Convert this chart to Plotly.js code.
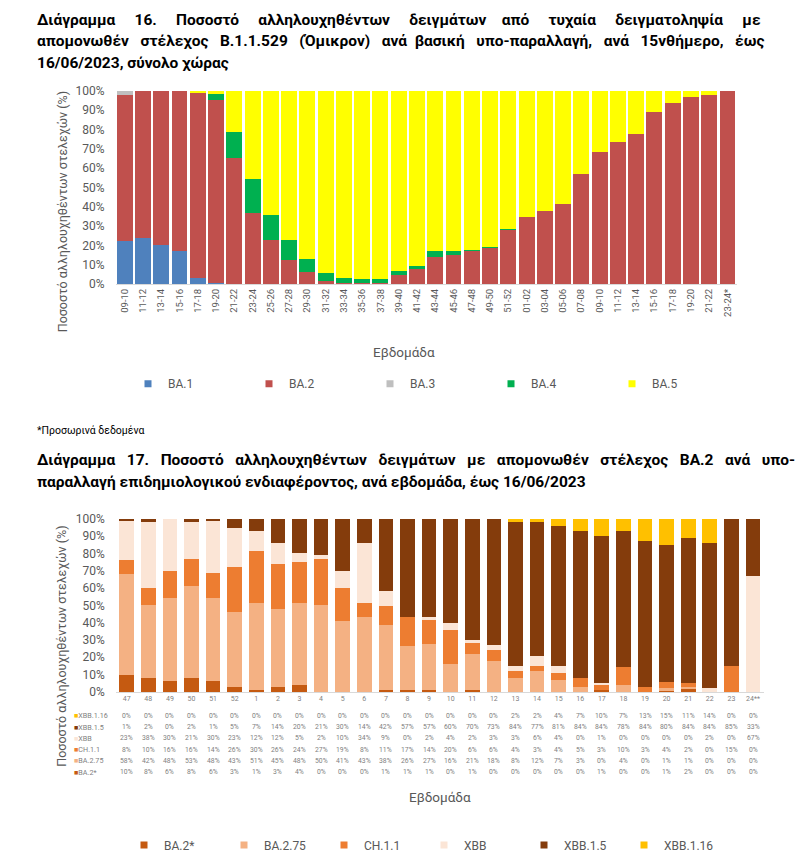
<!DOCTYPE html>
<html><head><meta charset="utf-8">
<script src="https://cdn.plot.ly/plotly-3.0.1.min.js"></script>
<style>body{margin:0;background:#fff}#chart{width:800px;height:860px}</style>
</head><body><div id="chart"></div>
<script>
// ---------- Chart 16 data ----------
const weeks16 = ['09-10','11-12','13-14','15-16','17-18','19-20','21-22','23-24','25-26','27-28','29-30','31-32','33-34','35-36','37-38','39-40','41-42','43-44','45-46','47-48','49-50','51-52','01-02','03-04','05-06','07-08','09-10','11-12','13-14','15-16','17-18','19-20','21-22','23-24*'];
const ba1 = [22,24,20,17,3,0.7,0,0,0,0,0,0,0,0,0,0,0,0,0,0,0,0,0,0,0,0,0,0,0,0,0,0,0,0];
const ba2 = [76,76,80,83,96,94.7,65,36.5,22.6,12.2,6,1.7,0.5,0.3,0.7,4.8,7.9,14.2,14.8,17.5,18.9,28.6,34.5,37.7,41.2,56.9,68.4,73.2,77.4,88.9,93.5,96.9,97.8,100];
const ba3 = [2,0,0,0,0,0,0,0,0,0,0,0,0,0,0,0,0,0,0,0,0,0,0,0,0,0,0,0,0,0,0,0,0,0];
const ba4 = [0,0,0,0,0,3,13.7,18,13.2,10.4,6.9,4,2.8,2.1,2,1.9,1.5,2.8,2.2,0.2,0.2,0.1,0,0,0,0,0,0,0,0,0,0,0,0];
const ba5 = [0,0,0,0,1,1.6,21.3,45.5,64.2,77.4,87.1,94.3,96.7,97.6,97.3,93.3,90.6,83,83,82.3,80.9,71.3,65.5,62.3,58.8,43.1,31.6,26.8,22.6,11.1,6.5,3.1,2.2,0];
const names16 = ['BA.1','BA.2','BA.3','BA.4','BA.5'];
const colors16 = ['#4F81BD','#C0504D','#BFBFBF','#00B050','#FFFF00'];

// ---------- Chart 17 data ----------
const weeks17 = ['47','48','49','50','51','52','1','2','3','4','5','6','7','8','9','10','11','12','13','14','15','16','17','18','19','20','21','22','23','24**'];
const ba2star = [10,8,6,8,6,3,1,3,4,0,0,0,1,1,1,0,1,0,0,0,0,0,1,0,0,1,2,0,0,0];
const ba275  = [58,42,48,53,48,43,51,45,48,50,41,43,38,26,27,16,21,18,8,12,7,3,0,4,0,1,1,0,0,0];
const ch11   = [8,10,16,16,14,26,30,26,24,27,19,8,11,17,14,20,6,6,4,3,4,5,3,10,3,4,2,0,15,0];
const xbb    = [23,38,30,21,30,23,12,12,5,2,10,34,9,0,2,4,2,3,3,6,4,0,1,0,0,0,0,2,0,67];
const xbb15  = [1,2,0,2,1,5,7,14,20,21,30,14,42,57,57,60,70,73,84,77,81,84,84,78,84,80,84,84,85,33];
const xbb116 = [0,0,0,0,0,0,0,0,0,0,0,0,0,0,0,0,0,0,2,2,4,7,10,7,13,15,11,14,0,0];
const names17 = ['BA.2*','BA.2.75','CH.1.1','XBB','XBB.1.5','XBB.1.16'];
const colors17 = ['#C55A11','#F4B183','#ED7D31','#FBE5D6','#843C0C','#FFC000'];

// ---------- Text ----------
const title16 = ['Διάγραμμα 16. Ποσοστό αλληλουχηθέντων δειγμάτων από τυχαία δειγματοληψία με',
  'απομονωθέν στέλεχος Β.1.1.529 (Όμικρον) ανά βασική υπο-παραλλαγή, ανά 15νθήμερο, έως',
  '16/06/2023, σύνολο χώρας'];
const title17 = ['Διάγραμμα 17. Ποσοστό αλληλουχηθέντων δειγμάτων με απομονωθέν στέλεχος BA.2 ανά υπο-',
  'παραλλαγή επιδημιολογικού ενδιαφέροντος, ανά εβδομάδα, έως 16/06/2023'];
const yTitle = 'Ποσοστό αλληλουχηθέντων στελεχών (%)';
const xTitle = 'Εβδομάδα';
const footnote = '*Προσωρινά δεδομένα';

// ---------- Build ----------
const W = 800, H = 860;
const px = v => v / W;
const py = v => 1 - v / H;
const F = 'Roboto, "Noto Sans", sans-serif';
const GRAY = '#595959';
const NB = '\u00A0';

// spread extra non-breaking spaces evenly over the gaps of a line (justified look)
function justify(line, extra) {
  const w = line.split(' ');
  const gaps = w.length - 1;
  if (!extra || gaps < 1) return line;
  let out = w[0], acc = 0;
  for (let i = 1; i <= gaps; i++) {
    const target = Math.round(extra * i / gaps);
    out += ' ' + NB.repeat(target - acc) + w[i];
    acc = target;
  }
  return out;
}

const idx16 = weeks16.map((_, i) => i);
const idx17 = weeks17.map((_, i) => i);
const series16 = [ba1, ba2, ba3, ba4, ba5];
const series17 = [ba2star, ba275, ch11, xbb, xbb15, xbb116];

const traces = [];
series16.forEach((s, k) => {
  traces.push({type:'bar', x: idx16, y: s, name: names16[k], marker:{color: colors16[k], line:{width:0}},
    xaxis:'x', yaxis:'y', showlegend:false, legendgroup:'g16'+k, hoverinfo:'name+y'});
});
series17.forEach((s, k) => {
  traces.push({type:'bar', x: weeks17, y: s, name: names17[k], width: 0.68, marker:{color: colors17[k], line:{width:0}},
    xaxis:'x2', yaxis:'y2', showlegend:false, legendgroup:'g17'+k, hoverinfo:'name+y'});
});
// legend entries
names16.forEach((n, k) => traces.push({type:'scatter', mode:'markers', x:[null], y:[null], name:n, xaxis:'x', yaxis:'y',
  marker:{symbol:'square', size:7, color: colors16[k]}, legend:'legend', legendgroup:'g16'+k, hoverinfo:'skip'}));
names17.forEach((n, k) => traces.push({type:'scatter', mode:'markers', x:[null], y:[null], name:n, xaxis:'x2', yaxis:'y2',
  marker:{symbol:'square', size:7, color: colors17[k]}, legend:'legend2', legendgroup:'g17'+k, hoverinfo:'skip'}));

const ann = [];
const titleFont = {family:F, size:15.5, color:'#000'};
const extra16 = [31, 17, 0];
const extra17 = [20, 0];
title16.forEach((t, i) => ann.push({xref:'paper', yref:'paper', x: px(35), y: py(20 + i*21.5), xanchor:'left', yanchor:'middle',
  text:'<b>'+justify(t, extra16[i])+'</b>', showarrow:false, font:titleFont}));
title17.forEach((t, i) => ann.push({xref:'paper', yref:'paper', x: px(35), y: py(462 + i*22), xanchor:'left', yanchor:'middle',
  text:'<b>'+justify(t, extra17[i])+'</b>', showarrow:false, font:titleFont}));
ann.push({xref:'paper', yref:'paper', x: px(35), y: py(432), xanchor:'left', yanchor:'middle', text: footnote, showarrow:false,
  font:{family:F, size:10.5, color:'#000'}});
// axis titles
[213, 649].forEach((c) => ann.push({xref:'paper', yref:'paper', x: px(62), y: py(c), xanchor:'center', yanchor:'middle',
  textangle:-90, text: yTitle, showarrow:false, font:{family:F, size:12.5, color:GRAY}}));
ann.push({xref:'paper', yref:'paper', x: px(404), y: py(353), xanchor:'center', yanchor:'middle', text:xTitle, showarrow:false,
  font:{family:F, size:13.5, color:GRAY}});
ann.push({xref:'paper', yref:'paper', x: px(440), y: py(800), xanchor:'center', yanchor:'middle', text:xTitle, showarrow:false,
  font:{family:F, size:13.5, color:GRAY}});
// data table (rows top to bottom: reversed order of series)
const tableFont = {family:F, size:6.8, color:'#7f7f7f'};
const rowOrder = [5,4,3,2,1,0];
rowOrder.forEach((k, r) => {
  const yy = py(718.3 + r*11.33);
  ann.push({xref:'paper', yref:'paper', x: px(72), y: yy, xanchor:'left', yanchor:'middle', showarrow:false,
    text:'<span style="color:'+colors17[k]+'">■</span>'+names17[k], font:{family:F, size:7.2, color:'#7f7f7f'}});
  series17[k].forEach((v, i) => ann.push({xref:'x2', yref:'paper', x: idx17[i], y: yy, xanchor:'center', yanchor:'middle',
    showarrow:false, text: v + '%', font:tableFont}));
});

const yax = {range:[0,100], dtick:10, ticksuffix:'%', showgrid:false, zeroline:false, ticks:'', showline:false,
  tickfont:{family:F, size:12, color:GRAY}, fixedrange:true, ticklabelstandoff:10};
const layout = {
  width:W, height:H, margin:{l:0,r:0,t:0,b:0}, paper_bgcolor:'#fff', plot_bgcolor:'#fff',
  barmode:'stack', barnorm:'percent', bargap:0.13, font:{family:F, color:GRAY},
  xaxis:{domain:[px(115.6), px(736.6)], anchor:'y', tickmode:'array', tickvals:idx16, ticktext:weeks16, tickangle:-90,
    range:[-0.5, weeks16.length-0.5], ticks:'', showline:true, linecolor:'#d9d9d9', linewidth:1, showgrid:false, zeroline:false,
    tickfont:{family:F, size:9.5, color:GRAY}, fixedrange:true},
  yaxis:Object.assign({domain:[py(285), py(91)], anchor:'x'}, yax),
  xaxis2:{domain:[px(115.9), px(763.8)], anchor:'y2', type:'category', range:[-0.5, weeks17.length-0.5], tickangle:0,
    ticks:'', showline:true, linecolor:'#d9d9d9', linewidth:1,
    showgrid:false, zeroline:false, tickfont:{family:F, size:7, color:'#7f7f7f'}, fixedrange:true},
  yaxis2:Object.assign({domain:[py(694.3), py(520.7)], anchor:'x2'}, yax),
  legend:{orientation:'h', x:px(128), y:py(385), xanchor:'left', yanchor:'middle', entrywidth:76, traceorder:'normal',
    font:{family:F, size:12, color:GRAY}, bgcolor:'rgba(0,0,0,0)'},
  legend2:{orientation:'h', x:px(124), y:py(848), xanchor:'left', yanchor:'middle', entrywidth:55, traceorder:'normal',
    font:{family:F, size:12, color:GRAY}, bgcolor:'rgba(0,0,0,0)'},
  annotations: ann,
  showlegend:true
};
Plotly.newPlot('chart', traces, layout, {displayModeBar:false});
</script></body></html>
